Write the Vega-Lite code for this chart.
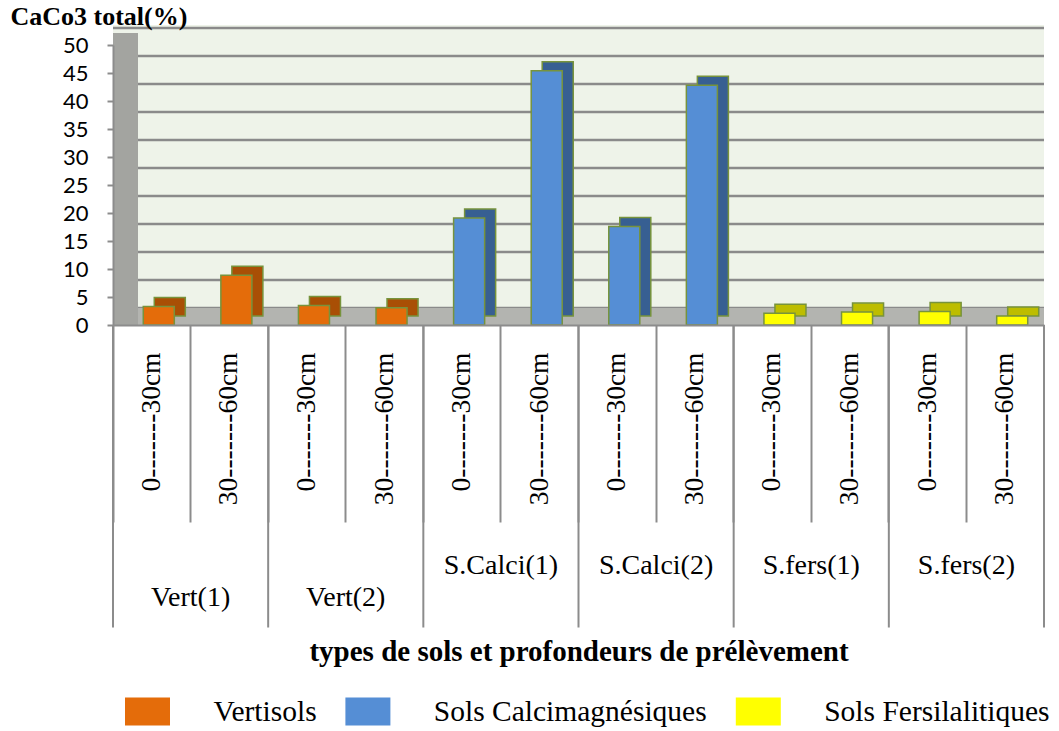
{
  "$schema": "https://vega.github.io/schema/vega-lite/v6.json",
  "width": 931,
  "height": 280,
  "autosize": {"type": "none"},
  "padding": {"left": 113, "top": 45, "right": 15, "bottom": 406},
  "background": "white",
  "config": {"view": {"stroke": null}, "font": "Liberation Serif"},
  "datasets": {
    "soil": [
      {"sample": "Vert(1)/0-------30cm", "group": "Vert(1)", "depth": "0-30", "type": "Vertisols", "caco3": 3.3},
      {"sample": "Vert(1)/30-------60cm", "group": "Vert(1)", "depth": "30-60", "type": "Vertisols", "caco3": 8.9},
      {"sample": "Vert(2)/0-------30cm", "group": "Vert(2)", "depth": "0-30", "type": "Vertisols", "caco3": 3.5},
      {"sample": "Vert(2)/30-------60cm", "group": "Vert(2)", "depth": "30-60", "type": "Vertisols", "caco3": 3.1},
      {"sample": "S.Calci(1)/0-------30cm", "group": "S.Calci(1)", "depth": "0-30", "type": "Sols Calcimagnésiques", "caco3": 19.1},
      {"sample": "S.Calci(1)/30-------60cm", "group": "S.Calci(1)", "depth": "30-60", "type": "Sols Calcimagnésiques", "caco3": 45.4},
      {"sample": "S.Calci(2)/0-------30cm", "group": "S.Calci(2)", "depth": "0-30", "type": "Sols Calcimagnésiques", "caco3": 17.6},
      {"sample": "S.Calci(2)/30-------60cm", "group": "S.Calci(2)", "depth": "30-60", "type": "Sols Calcimagnésiques", "caco3": 42.8},
      {"sample": "S.fers(1)/0-------30cm", "group": "S.fers(1)", "depth": "0-30", "type": "Sols Fersilalitiques", "caco3": 2.1},
      {"sample": "S.fers(1)/30-------60cm", "group": "S.fers(1)", "depth": "30-60", "type": "Sols Fersilalitiques", "caco3": 2.3},
      {"sample": "S.fers(2)/0-------30cm", "group": "S.fers(2)", "depth": "0-30", "type": "Sols Fersilalitiques", "caco3": 2.4},
      {"sample": "S.fers(2)/30-------60cm", "group": "S.fers(2)", "depth": "30-60", "type": "Sols Fersilalitiques", "caco3": 1.6}
    ],
    "grid": [{"g": 0}, {"g": 5}, {"g": 10}, {"g": 15}, {"g": 20}, {"g": 25}, {"g": 30}, {"g": 35}, {"g": 40}, {"g": 45}, {"g": 50}]
  },
  "resolve": {"scale": {"fill": "independent"}},
  "layer": [
    {
      "data": {"values": [{}]},
      "mark": {"type": "rect", "color": "#EEF3E9", "x2Offset": 15, "yOffset": -20, "y2Offset": -17},
      "encoding": {
        "y": {"datum": 50, "scale": {"domain": [0, 50]}, "axis": {"values": [0, 5, 10, 15, 20, 25, 30, 35, 40, 45, 50], "title": "CaCo3 total(%)", "titleAngle": 0, "titleAlign": "left", "titleBaseline": "alphabetic", "titleX": -103, "titleY": -21, "titleFont": "Liberation Serif", "titleFontSize": 26, "titleFontWeight": "bold", "titleColor": "black", "labelFont": "Lato", "labelFontSize": 22, "labelColor": "black", "labelPadding": 19, "labelOverlap": false, "tickSize": 6, "tickColor": "#8C8C8C", "tickWidth": 2, "domainColor": "#8C8C8C", "domainWidth": 2, "grid": false, "zindex": 1}},
        "y2": {"datum": 0}
      }
    },
    {
      "data": {"name": "grid"},
      "mark": {"type": "rule", "color": "#8A8A8A", "strokeWidth": 2.5, "x2Offset": 15, "yOffset": -17},
      "encoding": {
        "y": {"field": "g", "type": "quantitative", "scale": {"domain": [0, 50]}, "axis": {"values": [0, 5, 10, 15, 20, 25, 30, 35, 40, 45, 50], "title": "CaCo3 total(%)", "titleAngle": 0, "titleAlign": "left", "titleBaseline": "alphabetic", "titleX": -103, "titleY": -21, "titleFont": "Liberation Serif", "titleFontSize": 26, "titleFontWeight": "bold", "titleColor": "black", "labelFont": "Lato", "labelFontSize": 22, "labelColor": "black", "labelPadding": 19, "labelOverlap": false, "tickSize": 6, "tickColor": "#8C8C8C", "tickWidth": 2, "domainColor": "#8C8C8C", "domainWidth": 2, "grid": false, "zindex": 1}}
      }
    },
    {
      "data": {"values": [{}]},
      "mark": {"type": "rect", "color": "#B3B4B0", "x2Offset": 8, "yOffset": -17},
      "encoding": {
        "y": {"datum": 0, "scale": {"domain": [0, 50]}, "axis": {"values": [0, 5, 10, 15, 20, 25, 30, 35, 40, 45, 50], "title": "CaCo3 total(%)", "titleAngle": 0, "titleAlign": "left", "titleBaseline": "alphabetic", "titleX": -103, "titleY": -21, "titleFont": "Liberation Serif", "titleFontSize": 26, "titleFontWeight": "bold", "titleColor": "black", "labelFont": "Lato", "labelFontSize": 22, "labelColor": "black", "labelPadding": 19, "labelOverlap": false, "tickSize": 6, "tickColor": "#8C8C8C", "tickWidth": 2, "domainColor": "#8C8C8C", "domainWidth": 2, "grid": false, "zindex": 1}},
        "y2": {"datum": 0}
      }
    },
    {
      "data": {"values": [{}]},
      "mark": {"type": "rect", "color": "#A3A4A0", "x2Offset": 25, "yOffset": -12},
      "encoding": {
        "x": {"datum": "Vert(1)/0-------30cm", "bandPosition": 0, "scale": {"paddingInner": 0, "paddingOuter": 0}, "axis": {"title": "types de sols et profondeurs de prélèvement", "titleFont": "Liberation Serif", "titleFontSize": 29, "titleFontWeight": "bold", "titleColor": "black", "titleY": 326, "titleBaseline": "middle", "labelExpr": "split(datum.label, '/')[1]", "labelAngle": -90, "labelFont": "Liberation Serif", "labelFontSize": 27.5, "labelColor": "black", "labelPadding": -170, "labelOverlap": false, "labelLimit": 0, "bandPosition": 0, "tickSize": 197, "tickColor": "#8C8C8C", "tickWidth": 2, "domainColor": "#8C8C8C", "domainWidth": 2, "grid": false, "zindex": 1}},
        "x2": {"datum": "Vert(1)/0-------30cm", "bandPosition": 0},
        "y": {"datum": 50, "scale": {"domain": [0, 50]}, "axis": {"values": [0, 5, 10, 15, 20, 25, 30, 35, 40, 45, 50], "title": "CaCo3 total(%)", "titleAngle": 0, "titleAlign": "left", "titleBaseline": "alphabetic", "titleX": -103, "titleY": -21, "titleFont": "Liberation Serif", "titleFontSize": 26, "titleFontWeight": "bold", "titleColor": "black", "labelFont": "Lato", "labelFontSize": 22, "labelColor": "black", "labelPadding": 19, "labelOverlap": false, "tickSize": 6, "tickColor": "#8C8C8C", "tickWidth": 2, "domainColor": "#8C8C8C", "domainWidth": 2, "grid": false, "zindex": 1}},
        "y2": {"datum": 0}
      }
    },
    {
      "data": {"name": "soil"},
      "mark": {"type": "bar", "width": {"band": 0.4}, "xOffset": 18, "yOffset": -9, "y2Offset": -9, "stroke": "#77933C", "strokeWidth": 1.5},
      "encoding": {
        "x": {"field": "sample", "type": "nominal", "sort": null, "scale": {"paddingInner": 0, "paddingOuter": 0}, "axis": {"title": "types de sols et profondeurs de prélèvement", "titleFont": "Liberation Serif", "titleFontSize": 29, "titleFontWeight": "bold", "titleColor": "black", "titleY": 326, "titleBaseline": "middle", "labelExpr": "split(datum.label, '/')[1]", "labelAngle": -90, "labelFont": "Liberation Serif", "labelFontSize": 27.5, "labelColor": "black", "labelPadding": -170, "labelOverlap": false, "labelLimit": 0, "bandPosition": 0, "tickSize": 197, "tickColor": "#8C8C8C", "tickWidth": 2, "domainColor": "#8C8C8C", "domainWidth": 2, "grid": false, "zindex": 1}},
        "y": {"field": "caco3", "type": "quantitative", "scale": {"domain": [0, 50]}, "axis": {"values": [0, 5, 10, 15, 20, 25, 30, 35, 40, 45, 50], "title": "CaCo3 total(%)", "titleAngle": 0, "titleAlign": "left", "titleBaseline": "alphabetic", "titleX": -103, "titleY": -21, "titleFont": "Liberation Serif", "titleFontSize": 26, "titleFontWeight": "bold", "titleColor": "black", "labelFont": "Lato", "labelFontSize": 22, "labelColor": "black", "labelPadding": 19, "labelOverlap": false, "tickSize": 6, "tickColor": "#8C8C8C", "tickWidth": 2, "domainColor": "#8C8C8C", "domainWidth": 2, "grid": false, "zindex": 1}},
        "fill": {"field": "type", "type": "nominal", "scale": {"domain": ["Vertisols", "Sols Calcimagnésiques", "Sols Fersilalitiques"], "range": ["#A94F05", "#375F92", "#BDBD00"]}, "legend": null}
      }
    },
    {
      "data": {"name": "soil"},
      "mark": {"type": "bar", "width": {"band": 0.4}, "xOffset": 7, "stroke": "#77933C", "strokeWidth": 1.5},
      "encoding": {
        "x": {"field": "sample", "type": "nominal", "sort": null, "scale": {"paddingInner": 0, "paddingOuter": 0}, "axis": {"title": "types de sols et profondeurs de prélèvement", "titleFont": "Liberation Serif", "titleFontSize": 29, "titleFontWeight": "bold", "titleColor": "black", "titleY": 326, "titleBaseline": "middle", "labelExpr": "split(datum.label, '/')[1]", "labelAngle": -90, "labelFont": "Liberation Serif", "labelFontSize": 27.5, "labelColor": "black", "labelPadding": -170, "labelOverlap": false, "labelLimit": 0, "bandPosition": 0, "tickSize": 197, "tickColor": "#8C8C8C", "tickWidth": 2, "domainColor": "#8C8C8C", "domainWidth": 2, "grid": false, "zindex": 1}},
        "y": {"field": "caco3", "type": "quantitative", "scale": {"domain": [0, 50]}, "axis": {"values": [0, 5, 10, 15, 20, 25, 30, 35, 40, 45, 50], "title": "CaCo3 total(%)", "titleAngle": 0, "titleAlign": "left", "titleBaseline": "alphabetic", "titleX": -103, "titleY": -21, "titleFont": "Liberation Serif", "titleFontSize": 26, "titleFontWeight": "bold", "titleColor": "black", "labelFont": "Lato", "labelFontSize": 22, "labelColor": "black", "labelPadding": 19, "labelOverlap": false, "tickSize": 6, "tickColor": "#8C8C8C", "tickWidth": 2, "domainColor": "#8C8C8C", "domainWidth": 2, "grid": false, "zindex": 1}},
        "fill": {
          "field": "type", "type": "nominal",
          "scale": {"domain": ["Vertisols", "Sols Calcimagnésiques", "Sols Fersilalitiques"], "range": ["#E46C0A", "#558ED5", "#FFFF00"]},
          "legend": {
            "orient": "none", "legendX": 6, "legendY": 638, "direction": "horizontal", "title": null, "padding": 0,
            "symbolType": "M-0.8,-0.5H0.8V0.5H-0.8Z", "symbolSize": 3164, "symbolStrokeWidth": 0,
            "labelFont": "Liberation Serif", "labelFontSize": 29.5, "labelColor": "black", "labelOffset": 37.4, "columnPadding": 22.4, "labelLimit": 0
          }
        }
      }
    },
    {
      "data": {"name": "soil"},
      "transform": [{"filter": "datum.depth == '0-30'"}],
      "mark": {"type": "rule", "color": "#8C8C8C", "strokeWidth": 2},
      "encoding": {
        "x": {"field": "sample", "type": "nominal", "sort": null, "bandPosition": 0, "scale": {"paddingInner": 0, "paddingOuter": 0}, "axis": {"title": "types de sols et profondeurs de prélèvement", "titleFont": "Liberation Serif", "titleFontSize": 29, "titleFontWeight": "bold", "titleColor": "black", "titleY": 326, "titleBaseline": "middle", "labelExpr": "split(datum.label, '/')[1]", "labelAngle": -90, "labelFont": "Liberation Serif", "labelFontSize": 27.5, "labelColor": "black", "labelPadding": -170, "labelOverlap": false, "labelLimit": 0, "bandPosition": 0, "tickSize": 197, "tickColor": "#8C8C8C", "tickWidth": 2, "domainColor": "#8C8C8C", "domainWidth": 2, "grid": false, "zindex": 1}},
        "y": {"datum": 0, "scale": {"domain": [0, 50]}, "axis": {"values": [0, 5, 10, 15, 20, 25, 30, 35, 40, 45, 50], "title": "CaCo3 total(%)", "titleAngle": 0, "titleAlign": "left", "titleBaseline": "alphabetic", "titleX": -103, "titleY": -21, "titleFont": "Liberation Serif", "titleFontSize": 26, "titleFontWeight": "bold", "titleColor": "black", "labelFont": "Lato", "labelFontSize": 22, "labelColor": "black", "labelPadding": 19, "labelOverlap": false, "tickSize": 6, "tickColor": "#8C8C8C", "tickWidth": 2, "domainColor": "#8C8C8C", "domainWidth": 2, "grid": false, "zindex": 1}},
        "y2": {"datum": -54}
      }
    },
    {
      "data": {"name": "soil"},
      "transform": [{"filter": "datum.sample == 'S.fers(2)/30-------60cm'"}],
      "mark": {"type": "rule", "color": "#8C8C8C", "strokeWidth": 2},
      "encoding": {
        "x": {"field": "sample", "type": "nominal", "sort": null, "bandPosition": 1, "scale": {"paddingInner": 0, "paddingOuter": 0}, "axis": {"title": "types de sols et profondeurs de prélèvement", "titleFont": "Liberation Serif", "titleFontSize": 29, "titleFontWeight": "bold", "titleColor": "black", "titleY": 326, "titleBaseline": "middle", "labelExpr": "split(datum.label, '/')[1]", "labelAngle": -90, "labelFont": "Liberation Serif", "labelFontSize": 27.5, "labelColor": "black", "labelPadding": -170, "labelOverlap": false, "labelLimit": 0, "bandPosition": 0, "tickSize": 197, "tickColor": "#8C8C8C", "tickWidth": 2, "domainColor": "#8C8C8C", "domainWidth": 2, "grid": false, "zindex": 1}},
        "y": {"datum": 0, "scale": {"domain": [0, 50]}, "axis": {"values": [0, 5, 10, 15, 20, 25, 30, 35, 40, 45, 50], "title": "CaCo3 total(%)", "titleAngle": 0, "titleAlign": "left", "titleBaseline": "alphabetic", "titleX": -103, "titleY": -21, "titleFont": "Liberation Serif", "titleFontSize": 26, "titleFontWeight": "bold", "titleColor": "black", "labelFont": "Lato", "labelFontSize": 22, "labelColor": "black", "labelPadding": 19, "labelOverlap": false, "tickSize": 6, "tickColor": "#8C8C8C", "tickWidth": 2, "domainColor": "#8C8C8C", "domainWidth": 2, "grid": false, "zindex": 1}},
        "y2": {"datum": -54}
      }
    },
    {
      "data": {"name": "soil"},
      "transform": [{"filter": "datum.depth == '30-60' && indexof(datum.group, 'Vert') == 0"}],
      "mark": {"type": "text", "font": "Liberation Serif", "fontSize": 28, "color": "black", "align": "center", "baseline": "middle"},
      "encoding": {
        "x": {"field": "sample", "type": "nominal", "sort": null, "bandPosition": 0, "scale": {"paddingInner": 0, "paddingOuter": 0}, "axis": {"title": "types de sols et profondeurs de prélèvement", "titleFont": "Liberation Serif", "titleFontSize": 29, "titleFontWeight": "bold", "titleColor": "black", "titleY": 326, "titleBaseline": "middle", "labelExpr": "split(datum.label, '/')[1]", "labelAngle": -90, "labelFont": "Liberation Serif", "labelFontSize": 27.5, "labelColor": "black", "labelPadding": -170, "labelOverlap": false, "labelLimit": 0, "bandPosition": 0, "tickSize": 197, "tickColor": "#8C8C8C", "tickWidth": 2, "domainColor": "#8C8C8C", "domainWidth": 2, "grid": false, "zindex": 1}},
        "y": {"datum": -48.75, "scale": {"domain": [0, 50]}, "axis": {"values": [0, 5, 10, 15, 20, 25, 30, 35, 40, 45, 50], "title": "CaCo3 total(%)", "titleAngle": 0, "titleAlign": "left", "titleBaseline": "alphabetic", "titleX": -103, "titleY": -21, "titleFont": "Liberation Serif", "titleFontSize": 26, "titleFontWeight": "bold", "titleColor": "black", "labelFont": "Lato", "labelFontSize": 22, "labelColor": "black", "labelPadding": 19, "labelOverlap": false, "tickSize": 6, "tickColor": "#8C8C8C", "tickWidth": 2, "domainColor": "#8C8C8C", "domainWidth": 2, "grid": false, "zindex": 1}},
        "text": {"field": "group"}
      }
    },
    {
      "data": {"name": "soil"},
      "transform": [{"filter": "datum.depth == '30-60' && indexof(datum.group, 'Vert') != 0"}],
      "mark": {"type": "text", "font": "Liberation Serif", "fontSize": 28, "color": "black", "align": "center", "baseline": "middle"},
      "encoding": {
        "x": {"field": "sample", "type": "nominal", "sort": null, "bandPosition": 0, "scale": {"paddingInner": 0, "paddingOuter": 0}, "axis": {"title": "types de sols et profondeurs de prélèvement", "titleFont": "Liberation Serif", "titleFontSize": 29, "titleFontWeight": "bold", "titleColor": "black", "titleY": 326, "titleBaseline": "middle", "labelExpr": "split(datum.label, '/')[1]", "labelAngle": -90, "labelFont": "Liberation Serif", "labelFontSize": 27.5, "labelColor": "black", "labelPadding": -170, "labelOverlap": false, "labelLimit": 0, "bandPosition": 0, "tickSize": 197, "tickColor": "#8C8C8C", "tickWidth": 2, "domainColor": "#8C8C8C", "domainWidth": 2, "grid": false, "zindex": 1}},
        "y": {"datum": -43, "scale": {"domain": [0, 50]}, "axis": {"values": [0, 5, 10, 15, 20, 25, 30, 35, 40, 45, 50], "title": "CaCo3 total(%)", "titleAngle": 0, "titleAlign": "left", "titleBaseline": "alphabetic", "titleX": -103, "titleY": -21, "titleFont": "Liberation Serif", "titleFontSize": 26, "titleFontWeight": "bold", "titleColor": "black", "labelFont": "Lato", "labelFontSize": 22, "labelColor": "black", "labelPadding": 19, "labelOverlap": false, "tickSize": 6, "tickColor": "#8C8C8C", "tickWidth": 2, "domainColor": "#8C8C8C", "domainWidth": 2, "grid": false, "zindex": 1}},
        "text": {"field": "group"}
      }
    }
  ]
}
